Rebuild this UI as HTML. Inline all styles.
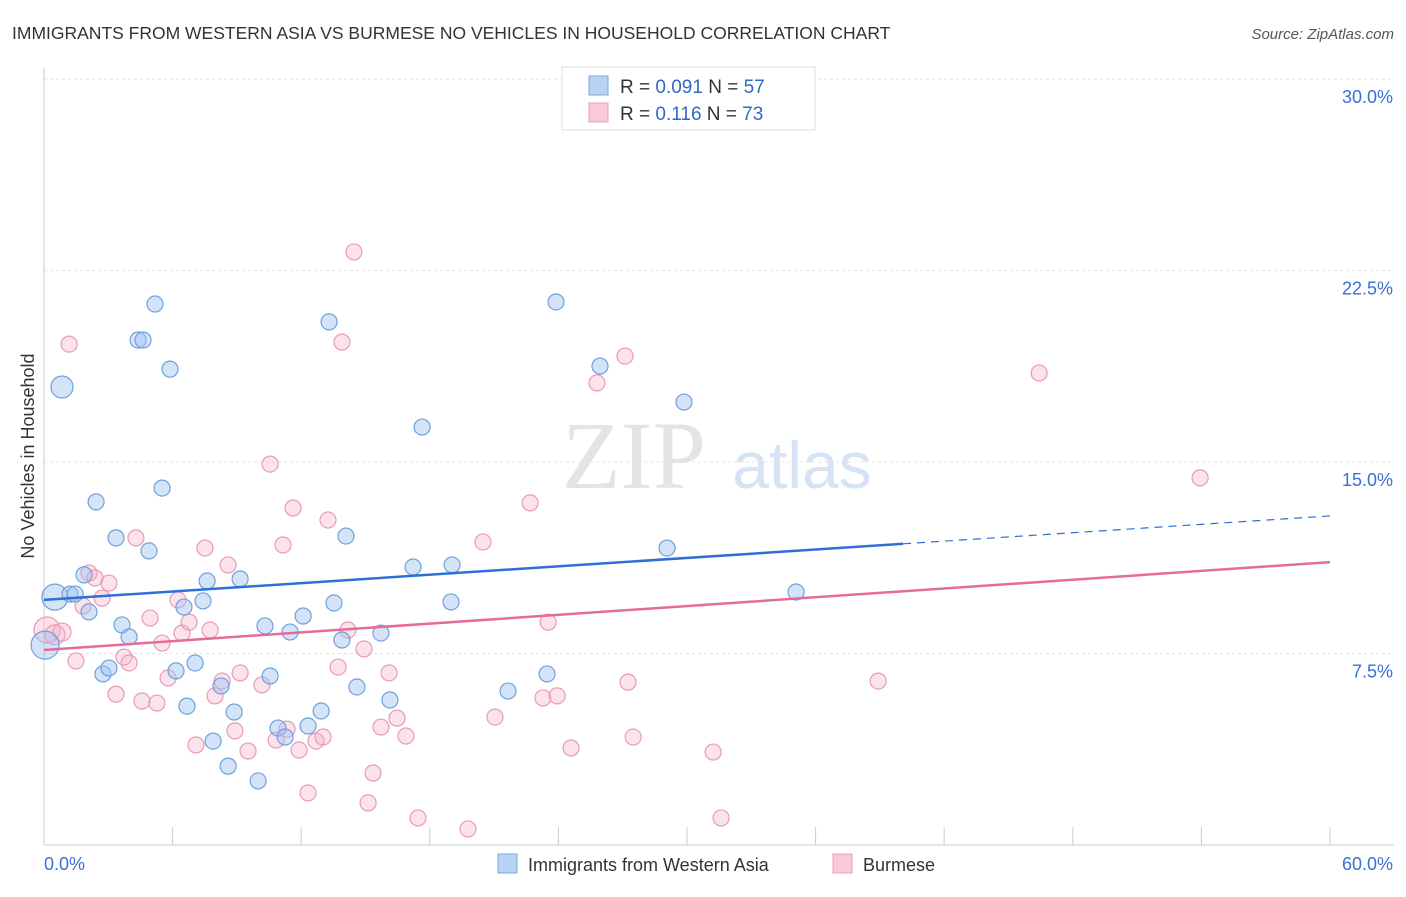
<!DOCTYPE html>
<html><head><meta charset="utf-8"><style>
body{margin:0;background:#fff;font-family:"Liberation Sans",sans-serif}
</style></head><body>
<svg width="1406" height="892" viewBox="0 0 1406 892" xmlns="http://www.w3.org/2000/svg">
<text x="12" y="39" font-size="17.5" fill="#333">IMMIGRANTS FROM WESTERN ASIA VS BURMESE NO VEHICLES IN HOUSEHOLD CORRELATION CHART</text>
<text x="1394" y="39" font-size="15" fill="#555" font-style="italic" text-anchor="end">Source: ZipAtlas.com</text>
<text x="634" y="488" font-size="96" fill="#e4e4e4" font-family="Liberation Serif,serif" text-anchor="middle">ZIP</text>
<text x="802" y="488" font-size="66" fill="#d6e3f5" text-anchor="middle">atlas</text>
<g id="grid"></g>
<g id="axes"></g>
<g id="marks"></g>
<text transform="translate(34,456) rotate(-90)" font-size="18" fill="#333" text-anchor="middle">No Vehicles in Household</text>
<g>
<rect x="562" y="67" width="253" height="63" fill="#fff" stroke="#ddd"/>
<rect x="589" y="76" width="19" height="19" fill="#b9d3f5" stroke="#7aa7e0"/>
<rect x="589" y="103" width="19" height="19" fill="#f9c9d8" stroke="#eaa0b9"/>
<text x="620" y="93" font-size="19" fill="#333">R = <tspan fill="#3366cc">0.091</tspan>   N = <tspan fill="#3366cc">57</tspan></text>
<text x="620" y="120" font-size="19" fill="#333">R =  <tspan fill="#3366cc">0.116</tspan>   N = <tspan fill="#3366cc">73</tspan></text>
</g>
<g>
<rect x="498" y="854" width="19" height="19" fill="#b9d3f5" stroke="#7aa7e0"/>
<text x="528" y="871" font-size="18" fill="#333">Immigrants from Western Asia</text>
<rect x="833" y="854" width="19" height="19" fill="#f9c9d8" stroke="#eaa0b9"/>
<text x="863" y="871" font-size="18" fill="#333">Burmese</text>
</g>
</svg>
<script>
const blueX=[0.84,0.51,0.05,1.21,1.45,1.87,2.10,2.43,2.75,3.03,3.36,3.64,3.97,4.39,4.62,4.90,5.18,5.51,5.88,6.16,6.53,6.67,7.05,7.42,7.61,7.89,8.26,8.59,8.87,9.15,9.99,10.31,10.55,10.92,11.25,11.48,12.09,12.32,12.93,13.30,13.53,13.90,14.09,14.60,15.72,16.14,17.22,17.64,18.99,19.04,21.65,23.47,23.89,25.94,29.07,29.86,35.09];
const blueY=[17.94,9.71,7.83,9.83,9.83,10.58,9.13,13.44,6.70,6.93,12.03,8.62,8.15,19.78,19.78,11.52,21.19,13.98,18.64,6.82,9.32,5.44,7.13,9.56,10.34,4.07,6.23,3.09,5.21,10.42,2.51,8.58,6.62,4.58,4.23,8.34,8.97,4.66,5.25,20.49,9.48,8.03,12.10,6.19,8.30,5.68,10.89,16.37,9.52,10.97,6.03,6.70,21.27,18.76,11.63,17.35,9.91];
const blueR=[11,13,14];
const pinkX=[0.14,0.51,0.84,1.17,1.49,1.82,2.10,2.38,2.71,3.03,3.36,3.73,3.97,4.29,4.57,4.95,5.27,5.51,5.79,6.25,6.44,6.77,7.09,7.51,7.75,7.98,8.31,8.59,8.91,9.15,9.52,10.17,10.55,10.83,11.15,11.34,11.62,11.90,12.32,12.69,13.02,13.25,13.72,13.90,14.18,14.46,14.93,15.12,15.35,15.72,16.10,16.47,16.89,17.45,19.78,20.48,21.04,22.68,23.28,23.52,23.94,24.59,24.78,25.80,27.11,27.25,27.49,31.22,31.59,38.92,46.43,53.94];
const pinkY=[8.42,8.23,8.34,19.62,7.21,9.36,10.65,10.46,9.67,10.26,5.91,7.36,7.13,12.03,5.64,8.89,5.56,7.91,6.54,9.60,8.30,8.73,3.92,11.63,8.42,5.84,6.42,10.97,4.47,6.74,3.68,6.27,14.92,4.11,11.75,4.54,13.20,3.72,2.04,4.07,4.23,12.73,6.97,19.70,8.42,23.23,7.68,1.65,2.82,4.62,6.74,4.97,4.27,1.06,0.63,11.87,5.01,13.40,5.76,8.73,5.84,3.80,28.55,18.10,19.15,6.38,4.23,3.64,1.06,6.42,18.49,14.38];
const pinkR=[13,10,9];
const blueTrend=[9.6,12.89],blueSolidEnd=40.08;
const pinkTrend=[7.64,11.08];
const yTicks=[7.5,15,22.5,30];
const yTickLabels=["7.5%","15.0%","22.5%","30.0%"];
const xTickLabels=["0.0%","60.0%"];
const NS="http://www.w3.org/2000/svg";
const sx=v=>44+v/60*1286, sy=v=>845-v*25.53;
function mk(tag,a,p){const e=document.createElementNS(NS,tag);for(const k in a)e.setAttribute(k,a[k]);p.appendChild(e);return e;}
const grid=document.getElementById('grid'),axes=document.getElementById('axes'),marks=document.getElementById('marks');
yTicks.forEach((t,i)=>{
 const l=mk('line',{x1:44,x2:1394,y1:sy(t),y2:sy(t),stroke:'#e3e3e3','stroke-dasharray':'3,3'},grid);
 
 const tx=mk('text',{x:1393,y:sy(t)+24,'font-size':18,fill:'#3b6fd4','text-anchor':'end'},axes);
 tx.textContent=yTickLabels[i];
 
});
const ya=mk('line',{x1:44,x2:44,y1:68,y2:845,stroke:'#ccc'},axes);

const xa=mk('line',{x1:44,x2:1394,y1:845,y2:845,stroke:'#ccc'},axes);

for(let i=0;i<=10;i++){const t=mk('line',{x1:sx(i*6),x2:sx(i*6),y1:827,y2:845,stroke:'#ccc'},axes);
 }
[[0,'start',44],[1,'end',1393]].forEach(([i,anc,x])=>{const t=mk('text',{x:x,y:870,'font-size':18,fill:'#3b6fd4','text-anchor':anc},axes);t.textContent=xTickLabels[i];
 });
function pts(X,Y,R,fill,stroke,name){X.forEach((x,i)=>{const c=mk('circle',{cx:sx(x),cy:sy(Y[i]),r:R[i]||8,fill:fill,stroke:stroke,'stroke-width':1.2},marks);
 });}
pts(pinkX,pinkY,pinkR,'rgba(246,175,199,0.35)','#e89ab6','burmese-point');
pts(blueX,blueY,blueR,'rgba(160,195,240,0.45)','#6fa0dc','western-asia-point');
const bs=(v)=>blueTrend[0]+(blueTrend[1]-blueTrend[0])*v/60;
let l=mk('line',{x1:sx(0),y1:sy(blueTrend[0]),x2:sx(blueSolidEnd),y2:sy(bs(blueSolidEnd)),stroke:'#2e6fd6','stroke-width':2.5},marks);

l=mk('line',{x1:sx(blueSolidEnd),y1:sy(bs(blueSolidEnd)),x2:sx(60),y2:sy(blueTrend[1]),stroke:'#2e6fd6','stroke-width':1.2,'stroke-dasharray':'8,6'},marks);

l=mk('line',{x1:sx(0),y1:sy(pinkTrend[0]),x2:sx(60),y2:sy(pinkTrend[1]),stroke:'#e56b98','stroke-width':2.5},marks);

</script>
</body></html>
